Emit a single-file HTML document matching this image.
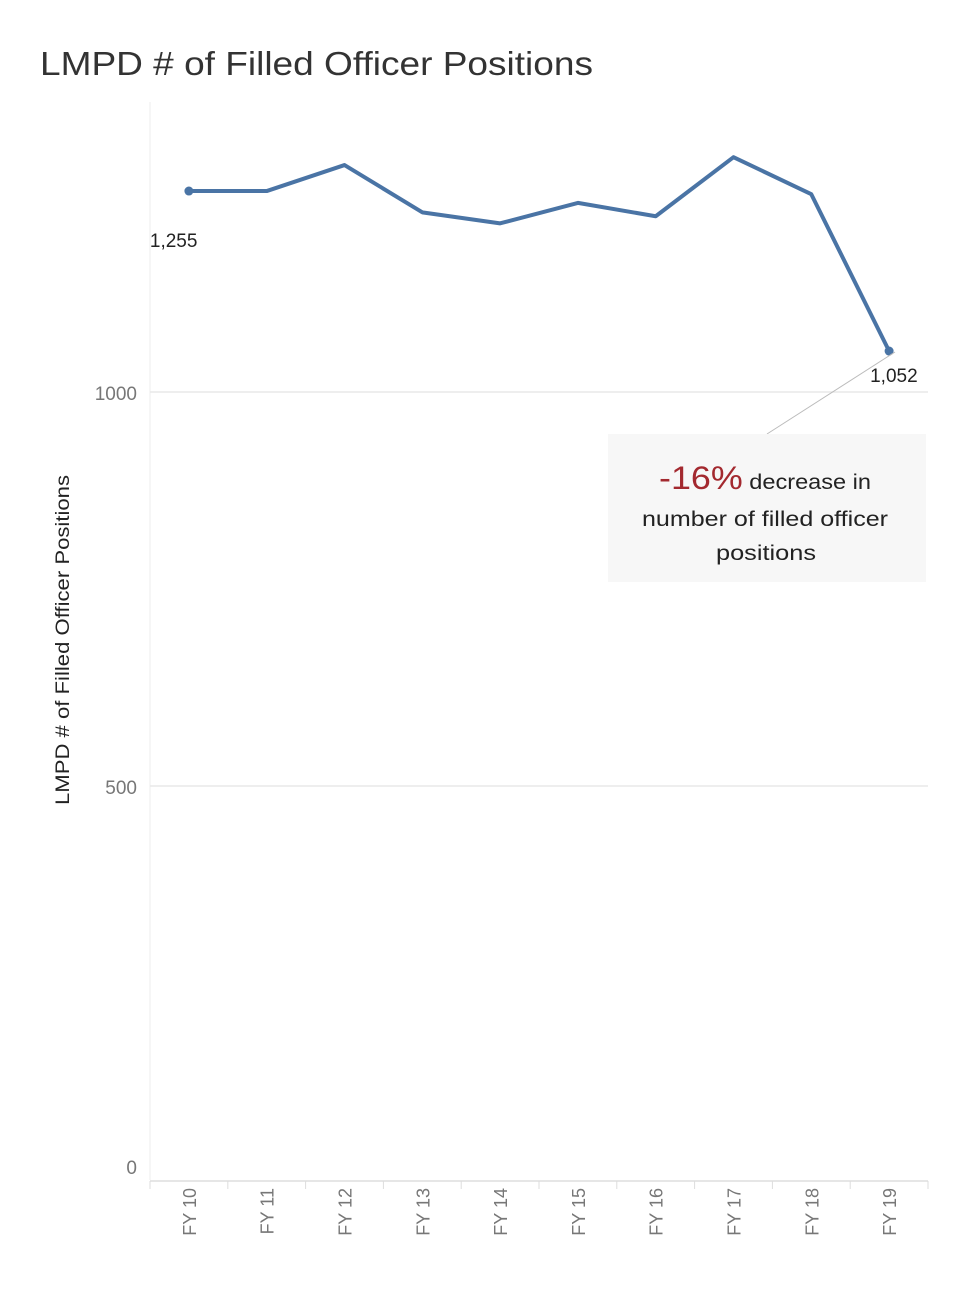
<!DOCTYPE html>
<html><head><meta charset="utf-8"><style>
body{margin:0;background:#fff;font-family:"Liberation Sans",sans-serif}
</style></head><body>
<svg id="c" width="980" height="1296" viewBox="0 0 980 1296" xmlns="http://www.w3.org/2000/svg">
<text x="40" y="75" font-size="33" fill="#333" textLength="553" lengthAdjust="spacingAndGlyphs">LMPD # of Filled Officer Positions</text>
<text transform="translate(69,640) rotate(-90)" text-anchor="middle" font-size="19" fill="#222" textLength="330" lengthAdjust="spacingAndGlyphs">LMPD # of Filled Officer Positions</text>
<g id="grid"></g><g id="xax"></g><g id="line"></g>
<g>
<line x1="767" y1="434" x2="895" y2="352" stroke="#bbb" stroke-width="1"/>
<rect x="608" y="434" width="318" height="148" fill="#f7f7f7"/>
<text x="765" y="489" text-anchor="middle" font-size="21" fill="#222" textLength="212" lengthAdjust="spacingAndGlyphs"><tspan font-size="32" fill="#a3292f">-16%</tspan> decrease in</text>
<text x="765" y="526" text-anchor="middle" font-size="21" fill="#222" textLength="246" lengthAdjust="spacingAndGlyphs">number of filled officer</text>
<text x="766" y="560" text-anchor="middle" font-size="21" fill="#222" textLength="100" lengthAdjust="spacingAndGlyphs">positions</text>
</g>
</svg>
<script>
const categories=["FY 10","FY 11","FY 12","FY 13","FY 14","FY 15","FY 16","FY 17","FY 18","FY 19"];
const values=[1255,1255,1288,1228,1214,1240,1223,1298,1251,1052];
const yTicks=[0,500,1000];
const NS="http://www.w3.org/2000/svg";
const L=150,R=928,B=1180,k=0.788;
const bw=(R-L)/categories.length;
const x=i=>L+bw*(i+0.5), y=v=>B-v*k;
function mk(t,a,p){const e=document.createElementNS(NS,t);for(const n in a)e.setAttribute(n,a[n]);p.appendChild(e);return e;}
const g=document.getElementById('grid'),xa=document.getElementById('xax'),ln=document.getElementById('line');
mk('line',{x1:L,y1:102,x2:L,y2:B,stroke:'#eee'},g);
yTicks.forEach(v=>{
 if(v>0){const gl=mk('line',{x1:L,y1:y(v),x2:R,y2:y(v),stroke:'#e8e8e8','stroke-width':1.5},g);
 
 }
 const t=mk('text',{x:137,y:v===0?y(v)-6:y(v)+8,'text-anchor':'end','font-size':19,fill:'#777'},g);t.textContent=v;
 
 
});
mk('line',{x1:L,y1:B+1,x2:R,y2:B+1,stroke:'#ddd','stroke-width':1.5},xa);
categories.forEach((c,i)=>{
 mk('line',{x1:L+bw*i,y1:B+1,x2:L+bw*i,y2:B+9,stroke:'#ddd'},xa);
 const t=mk('text',{transform:`translate(${x(i)+7},${B+8}) rotate(-90)`,'text-anchor':'end','font-size':18,fill:'#777'},xa);t.textContent=c;
 
 
});
mk('line',{x1:R,y1:B+1,x2:R,y2:B+9,stroke:'#ddd'},xa);
const p=mk('path',{d:values.map((v,i)=>(i?'L':'M')+x(i)+','+y(v)).join(''),fill:'none',stroke:'#4a74a5','stroke-width':4,'stroke-linejoin':'round'},ln);


[0,values.length-1].forEach(i=>{
 const c=mk('circle',{cx:x(i),cy:y(values[i]),r:4.5,fill:'#4a74a5'},ln);
 
 
 const t=mk('text',{x:x(i)-39+(i?20:0),y:y(values[i])+56-(i?25:0),'font-size':19,fill:'#222'},ln);
 t.textContent=values[i].toLocaleString('en-US');
 
 
});
</script>
</body></html>
